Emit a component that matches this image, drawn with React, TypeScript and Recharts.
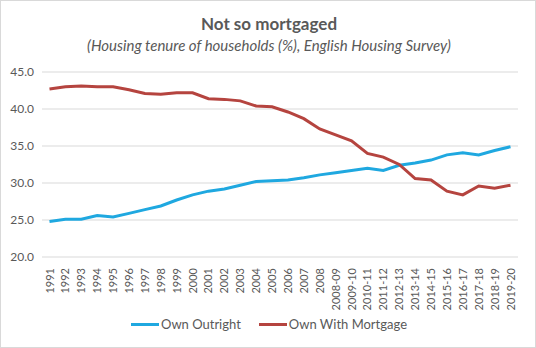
import React from 'react';
import { LineChart, Line, XAxis, YAxis, CartesianGrid } from 'recharts';

const years = [
  '1991', '1992', '1993', '1994', '1995', '1996', '1997', '1998', '1999', '2000',
  '2001', '2002', '2003', '2004', '2005', '2006', '2007', '2008', '2008-09', '2009-10',
  '2010-11', '2011-12', '2012-13', '2013-14', '2014-15', '2015-16', '2016-17', '2017-18',
  '2018-19', '2019-20',
];

const ownOutright = [
  24.8, 25.1, 25.1, 25.6, 25.4, 25.9, 26.4, 26.9, 27.7, 28.4,
  28.9, 29.2, 29.7, 30.2, 30.3, 30.4, 30.7, 31.1, 31.4, 31.7,
  32.0, 31.7, 32.4, 32.7, 33.1, 33.8, 34.1, 33.8, 34.4, 34.9,
];

const ownWithMortgage = [
  42.7, 43.0, 43.1, 43.0, 43.0, 42.6, 42.1, 42.0, 42.2, 42.2,
  41.4, 41.3, 41.1, 40.4, 40.3, 39.6, 38.7, 37.3, 36.5, 35.7,
  34.0, 33.5, 32.5, 30.6, 30.4, 28.9, 28.4, 29.6, 29.3, 29.7,
];

const yTicks = [20, 25, 30, 35, 40, 45];

const data = years.map((year, i) => ({
  year,
  outright: ownOutright[i],
  mortgage: ownWithMortgage[i],
}));

const FONT = 'Lato, "Noto Sans", sans-serif';
const TEXT = '#595959';
const BLUE = '#1fa8e0';
const RED = '#b5443f';

const series = [
  { key: 'outright', name: 'Own Outright', color: BLUE },
  { key: 'mortgage', name: 'Own With Mortgage', color: RED },
];

function YearTick({ x, y, payload }: any) {
  return (
    <text
      x={x}
      y={y}
      dy={4}
      transform={`rotate(-90, ${x}, ${y})`}
      textAnchor="end"
      fill={TEXT}
      fontSize={11}
      fontFamily={FONT}
    >
      {payload.value}
    </text>
  );
}

export default function App() {
  return (
    <div
      style={{
        position: 'absolute',
        left: 0,
        top: 0,
        width: 536,
        height: 348,
        boxSizing: 'border-box',
        border: '1px solid #d9d9d9',
        background: '#fff',
      }}
    >
      <div
        style={{
          position: 'absolute', top: 12, left: 0, width: 536, textAlign: 'center',
          fontFamily: FONT, fontWeight: 'bold', fontSize: 17, color: TEXT,
        }}
      >
        Not so mortgaged
      </div>
      <div
        style={{
          position: 'absolute', top: 35, left: 0, width: 536, textAlign: 'center',
          fontFamily: FONT, fontStyle: 'italic', fontSize: 15, color: TEXT,
        }}
      >
        (Housing tenure of households (%), English Housing Survey)
      </div>
      <div style={{ position: 'absolute', left: -1, top: -1 }}>
        <LineChart width={536} height={348} data={data} margin={{ top: 72, right: 18, bottom: 35, left: 0 }}>
          <CartesianGrid vertical={false} stroke="#d9d9d9" />
          <XAxis
            dataKey="year"
            interval={0}
            tick={<YearTick />}
            tickLine={false}
            axisLine={false}
            height={56}
            tickMargin={5}
            padding={{ left: 7.5, right: 7.5 }}
          />
          <YAxis
            domain={[20, 45]}
            ticks={yTicks}
            tickFormatter={(v: number) => v.toFixed(1)}
            tick={{ fill: TEXT, fontSize: 12, fontFamily: FONT }}
            tickLine={false}
            axisLine={false}
            width={42}
          />
          {series.map((s) => (
            <Line
              key={s.key}
              type="linear"
              dataKey={s.key}
              name={s.name}
              stroke={s.color}
              strokeWidth={3}
              dot={false}
              isAnimationActive={false}
            />
          ))}
        </LineChart>
      </div>
      <div
        style={{
          position: 'absolute', top: 315, left: 0, width: 536,
          display: 'flex', justifyContent: 'center', gap: 18,
          fontFamily: FONT, fontSize: 13, color: TEXT,
        }}
      >
        {series.map((s) => (
          <div key={s.key} style={{ display: 'flex', alignItems: 'center' }}>
            <span style={{ display: 'inline-block', width: 28, height: 3, background: s.color, marginRight: 2 }} />
            <span>{s.name}</span>
          </div>
        ))}
      </div>
    </div>
  );
}
